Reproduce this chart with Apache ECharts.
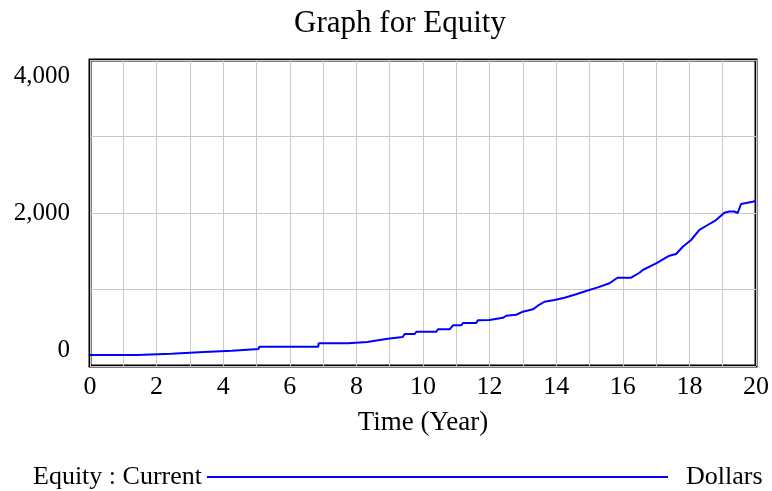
<!DOCTYPE html>
<html>
<head>
<meta charset="utf-8">
<script src="https://cdn.jsdelivr.net/npm/echarts@6/dist/echarts.min.js"></script>
<style>html,body{margin:0;padding:0;background:#fff}#c{width:772px;height:491px}</style>
</head>
<body>
<div id="c"></div>
<script>
const titleText = 'Graph for Equity';
const seriesName = 'Equity : Current';
const unitsText = 'Dollars';
const xAxisName = 'Time (Year)';
const years = [0, 1.42, 1.44, 2.44, 2.46, 3.42, 3.44, 4.26, 4.28, 5.06, 5.08, 6.85, 6.87, 7.75, 7.77, 8.33, 8.35, 8.65, 8.67, 8.94, 8.96, 9.39, 9.45, 9.75, 9.8, 10.4, 10.45, 10.8, 10.9, 11.15, 11.2, 11.6, 11.65, 12.0, 12.05, 12.4, 12.5, 12.8, 13.0, 13.3, 13.45, 13.65, 13.95, 14.25, 14.6, 14.9, 15.25, 15.6, 15.84, 16.25, 16.5, 16.6, 17.0, 17.4, 17.6, 17.65, 17.8, 18.05, 18.3, 18.55, 18.8, 19.05, 19.2, 19.35, 19.45, 19.55, 19.7, 19.9, 20];
const equity = [144, 144, 161, 161, 183, 183, 200, 200, 222, 222, 252, 252, 297, 297, 314, 314, 336, 336, 357, 357, 379, 379, 418, 418, 448, 448, 480, 480, 532, 532, 562, 562, 598, 601, 623, 630, 657, 670, 710, 741, 788, 840, 862, 893, 937, 980, 1028, 1081, 1154, 1154, 1219, 1255, 1342, 1442, 1464, 1450, 1559, 1647, 1778, 1843, 1908, 2004, 2020, 2020, 2000, 2118, 2130, 2148, 2160];
const yTicks = [0, 2000, 4000];
const xTicks = [0, 2, 4, 6, 8, 10, 12, 14, 16, 18, 20];

const font = 'Liberation Serif, Times New Roman, serif';
const chart = echarts.init(document.getElementById('c'), null, {renderer: 'canvas'});
chart.setOption({
  animation: false,
  backgroundColor: '#fff',
  title: {text: titleText, left: 395, top: 3, textAlign: 'center',
    textStyle: {fontFamily: font, fontSize: 31, fontWeight: 'normal', color: '#000'}},
  grid: {left: 90, right: 15, top: 60, bottom: 125, show: true, borderColor: '#000', borderWidth: 3, containLabel: false},
  xAxis: {type: 'value', min: 0, max: 20, interval: 1,
    name: xAxisName, nameLocation: 'middle', nameGap: 43,
    nameTextStyle: {fontFamily: font, fontSize: 27, color: '#000'},
    axisLine: {show: false}, axisTick: {show: false},
    axisLabel: {fontFamily: font, fontSize: 26, color: '#000', margin: 8,
      formatter: v => xTicks.includes(v) ? String(v) : ''},
    splitLine: {show: true, lineStyle: {color: '#c8c8c8', width: 1}}},
  yAxis: {type: 'value', min: 0, max: 4000, interval: 1000,
    axisLine: {show: false}, axisTick: {show: false},
    axisLabel: {fontFamily: font, fontSize: 25, color: '#000', margin: 20,
      verticalAlignMaxLabel: 'top', verticalAlignMinLabel: 'bottom',
      formatter: v => {
        if (!yTicks.includes(v)) return '';
        const s = v.toLocaleString('en-US');
        if (v === 4000) return '{t|' + s + '}';
        if (v === 0) return '{b|' + s + '}';
        return s;
      },
      rich: {
        t: {fontFamily: font, fontSize: 25, color: '#000', padding: [4, 0, 0, 0]},
        b: {fontFamily: font, fontSize: 25, color: '#000', padding: [0, 0, 3, 0]}
      }},
    splitLine: {show: true, lineStyle: {color: '#c8c8c8', width: 1}}},
  legend: {left: 33, top: 464, padding: 0, align: 'right', icon: 'rect', itemWidth: 461, itemHeight: 2,
    textStyle: {fontFamily: font, fontSize: 26, color: '#000'}, data: [seriesName]},
  graphic: [{type: 'text', left: 686, top: 464, style: {text: unitsText, font: '26px ' + font, fill: '#000'}}],
  series: [{name: seriesName, type: 'line', showSymbol: false, symbol: 'none',
    data: years.map((t, i) => [t, equity[i]]),
    lineStyle: {color: '#0000ff', width: 2}, itemStyle: {color: '#0000ff'}}]
});
</script>
</body>
</html>
